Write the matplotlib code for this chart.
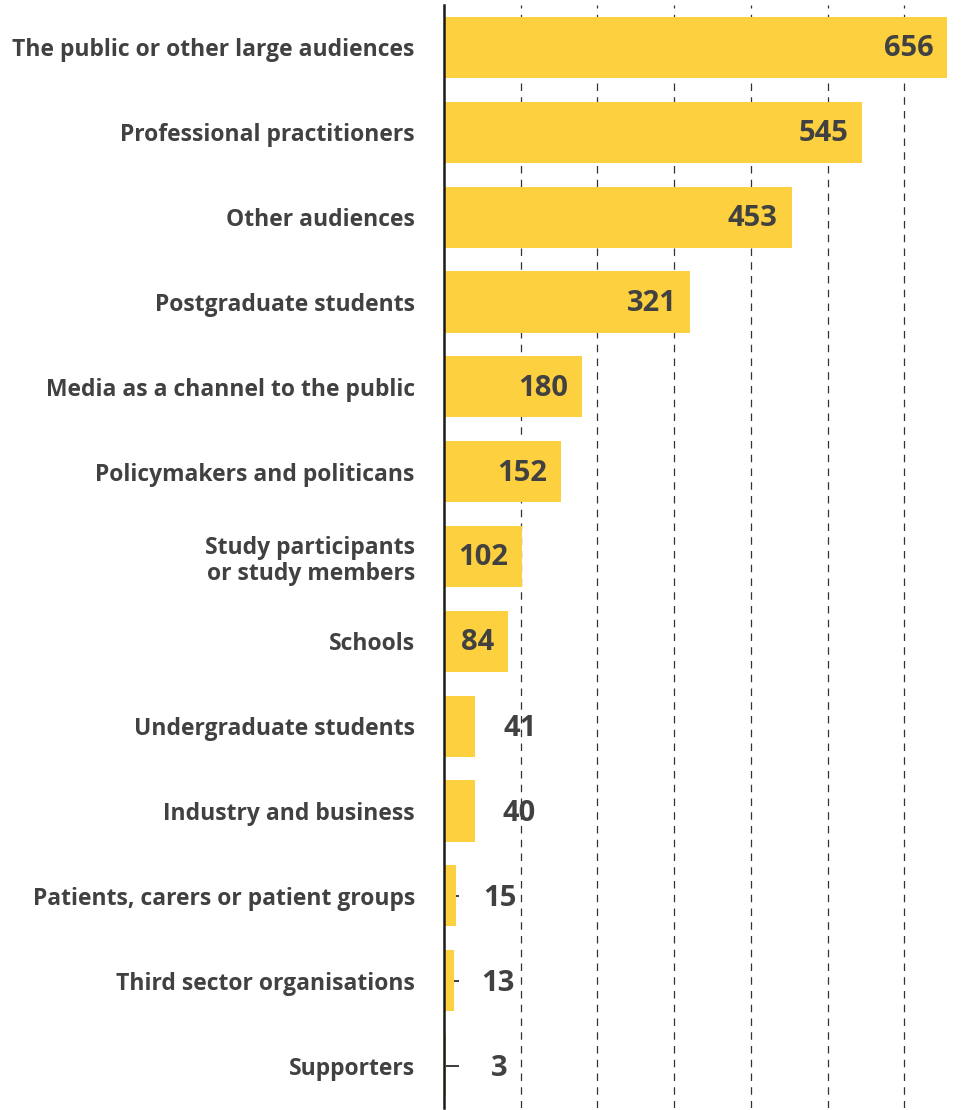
import matplotlib
matplotlib.use("Agg")
import matplotlib.pyplot as plt

plt.rcParams['font.family'] = ['Open Sans', 'DejaVu Sans']

# audience groups, top to bottom, with number of responses
audiences = [
    "The public or other large audiences",
    "Professional practitioners",
    "Other audiences",
    "Postgraduate students",
    "Media as a channel to the public",
    "Policymakers and politicans",
    "Study participants\nor study members",
    "Schools",
    "Undergraduate students",
    "Industry and business",
    "Patients, carers or patient groups",
    "Third sector organisations",
    "Supporters",
]
counts = [656, 545, 453, 321, 180, 152, 102, 84, 41, 40, 15, 13, 3]
grid_values = [100, 200, 300, 400, 500, 600]

bar_color = "#FCD03F"
text_color = "#414141"

fig = plt.figure(figsize=(9.79, 11.10), dpi=100)
ax = fig.add_axes([444 / 979, 2 / 1110, 514 / 979, 1103 / 1110])

ypos = list(range(len(audiences)))
ax.barh(ypos, counts, height=0.72, color=bar_color, zorder=2)

ax.set_xlim(0, 670)
ax.set_ylim(len(audiences) - 0.5, -0.5)

for gv in grid_values:
    ax.axvline(gv, color="#333333", lw=0.9, ls=(0, (6, 5)), zorder=1)

ax.set_axisbelow(True)
for side in ["top", "right", "bottom"]:
    ax.spines[side].set_visible(False)
ax.spines["left"].set_linewidth(1.8)
ax.spines["left"].set_color("#1a1a1a")
ax.spines["left"].set_zorder(3)

ax.set_xticks([])
ax.set_yticks(ypos)
ax.set_yticklabels(audiences, fontsize=16.5, fontweight="bold", color=text_color,
                   linespacing=1.15)
ax.tick_params(axis="y", direction="in", length=11, width=1.2, color="#1a1a1a", pad=21)

for y, v in zip(ypos, counts):
    if v >= 60:
        ax.annotate(str(v), xy=(v, y), xytext=(-10, -1), textcoords="offset points",
                    ha="right", va="center", fontsize=21, fontweight="bold",
                    color=text_color, zorder=4)
    else:
        ax.annotate(str(v), xy=(v, y), xytext=(44, -2), textcoords="offset points",
                    ha="right", va="center", fontsize=21, fontweight="bold",
                    color=text_color, zorder=4)

fig.savefig("out.png", dpi=100)
